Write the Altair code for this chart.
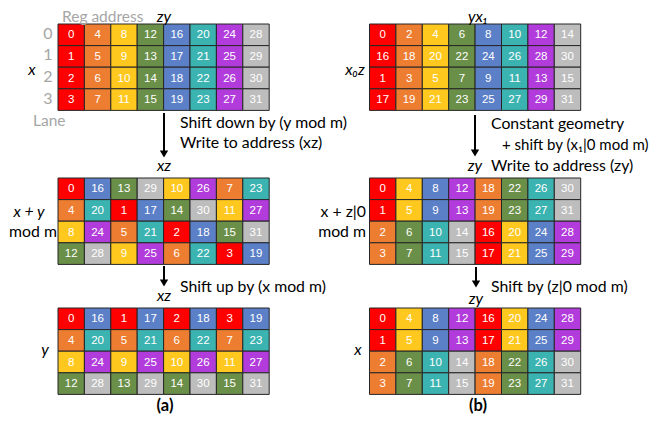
import altair as alt
import pandas as pd

# ---------------- data ----------------
grid_a_top = [[0, 4, 8, 12, 16, 20, 24, 28],
              [1, 5, 9, 13, 17, 21, 25, 29],
              [2, 6, 10, 14, 18, 22, 26, 30],
              [3, 7, 11, 15, 19, 23, 27, 31]]
grid_a_mid = [[0, 16, 13, 29, 10, 26, 7, 23],
              [4, 20, 1, 17, 14, 30, 11, 27],
              [8, 24, 5, 21, 2, 18, 15, 31],
              [12, 28, 9, 25, 6, 22, 3, 19]]
grid_a_bot = [[0, 16, 1, 17, 2, 18, 3, 19],
              [4, 20, 5, 21, 6, 22, 7, 23],
              [8, 24, 9, 25, 10, 26, 11, 27],
              [12, 28, 13, 29, 14, 30, 15, 31]]
grid_b_top = [[0, 2, 4, 6, 8, 10, 12, 14],
              [16, 18, 20, 22, 24, 26, 28, 30],
              [1, 3, 5, 7, 9, 11, 13, 15],
              [17, 19, 21, 23, 25, 27, 29, 31]]
grid_b_mid = [[0, 4, 8, 12, 18, 22, 26, 30],
              [1, 5, 9, 13, 19, 23, 27, 31],
              [2, 6, 10, 14, 16, 20, 24, 28],
              [3, 7, 11, 15, 17, 21, 25, 29]]
grid_b_bot = [[0, 4, 8, 12, 16, 20, 24, 28],
              [1, 5, 9, 13, 17, 21, 25, 29],
              [2, 6, 10, 14, 18, 22, 26, 30],
              [3, 7, 11, 15, 19, 23, 27, 31]]

lane_labels = ["0", "1", "2", "3"]
palette = ["#FF0000", "#ED7D31", "#FFC81E", "#6A8F48",
           "#5B80C8", "#3BB3B0", "#B23CDB", "#BDBDBD"]

# ---------------- layout (image pixel coordinates) ----------------
CW, CH = 26.4, 21.6
LX, RX = 58, 369.5
TOP, MID, BOT = 24, 178, 308

panels = [
    (grid_a_top, LX, TOP, "a"), (grid_a_mid, LX, MID, "a"), (grid_a_bot, LX, BOT, "a"),
    (grid_b_top, RX, TOP, "b"), (grid_b_mid, RX, MID, "b"), (grid_b_bot, RX, BOT, "b"),
]

rows = []
for grid, x0, y0, kind in panels:
    for r, line in enumerate(grid):
        for c, v in enumerate(line):
            grp = v // 4 if kind == "a" else (v % 16) // 2
            rows.append(dict(x=x0 + c * CW, x2=x0 + (c + 1) * CW,
                             y=y0 + r * CH, y2=y0 + (r + 1) * CH,
                             xc=x0 + (c + 0.5) * CW, yc=y0 + (r + 0.5) * CH + 0.5,
                             label=str(v), grp=grp))
cells = pd.DataFrame(rows)

XS = alt.Scale(domain=[8, 658])
YS = alt.Scale(domain=[8, 415], reverse=True)
FONT = "Lato"

base = alt.Chart(cells)
rects = base.mark_rect(stroke="#262626", strokeWidth=1).encode(
    x=alt.X("x:Q", scale=XS, axis=None), x2="x2:Q",
    y=alt.Y("y:Q", scale=YS, axis=None), y2="y2:Q",
    fill=alt.Fill("grp:O", scale=alt.Scale(domain=list(range(8)), range=palette), legend=None),
)
nums = base.mark_text(color="white", font="Liberation Sans", fontSize=11.5).encode(
    x=alt.X("xc:Q", scale=XS, axis=None), y=alt.Y("yc:Q", scale=YS, axis=None), text="label:N")


def texts(items, align="center", color="black", style="normal", weight="normal", size=15.8):
    df = pd.DataFrame(items, columns=["tx", "ty", "t"])
    return alt.Chart(df).mark_text(align=align, baseline="middle", color=color, fontStyle=style,
                                   fontWeight=weight, fontSize=size, font=FONT).encode(
        x=alt.X("tx:Q", scale=XS, axis=None), y=alt.Y("ty:Q", scale=YS, axis=None), text="t:N")


gray_items = [(62, 17, "Reg address"), (33, 121, "Lane")]
lane_items = [(48, TOP + (i + 0.5) * CH - 1, s) for i, s in enumerate(lane_labels)]
italic_items = [(164, 17, "zy"), (32, 70, "x"), (478, 17, "yx₁"), (355, 70, "x₀z"),
                (164, 166, "xz"), (475, 166, "zy"), (164, 296, "xz"), (476, 299, "zy"),
                (45, 350, "y"), (358, 350, "x"), (29, 212, "x + y")]
plain_center = [(33, 232, "mod m")]
right_items = [(366, 212, "x + z|0"), (366, 232, "mod m")]
left_items = [(180, 123, "Shift down by (y mod m)"), (180, 143, "Write to address (xz)"),
              (491, 124, "Constant geometry"),
              (491, 166, "Write to address (zy)"), (180, 287, "Shift up by (x mod m)"),
              (491, 287, "Shift by (z|0 mod m)")]
tight_items = [(502, 145, "+ shift by (x₁|0 mod m)")]
bold_items = [(165, 406, "(a)"), (478, 406, "(b)")]

arrows = pd.DataFrame(dict(ax=[164, 475, 164, 476], ay=[113, 115, 266, 267],
                           ay2=[151, 150, 280, 281], tip=[154, 153, 283, 284]))
shafts = alt.Chart(arrows).mark_rule(color="black", strokeWidth=2).encode(
    x=alt.X("ax:Q", scale=XS, axis=None), y=alt.Y("ay:Q", scale=YS, axis=None), y2="ay2:Q")
heads = alt.Chart(arrows).mark_point(shape="triangle-down", filled=True, color="black",
                                     size=70, opacity=1).encode(
    x=alt.X("ax:Q", scale=XS, axis=None), y=alt.Y("tip:Q", scale=YS, axis=None))

chart = alt.layer(
    rects, nums,
    texts(gray_items, align="left", color="#A6A6A6", size=15.5),
    texts(lane_items, color="#A6A6A6", size=16),
    texts(italic_items, style="italic"),
    texts(plain_center),
    texts(right_items, align="right"),
    texts(left_items, align="left"),
    texts(tight_items, align="left", size=15),
    texts(bold_items, weight="bold", size=16.5),
    shafts, heads,
).properties(width=650, height=407, padding=0,
             autosize=alt.AutoSizeParams(type="none")).configure_view(stroke=None)

chart.save("out.html", embed_options={"renderer": "svg", "actions": False})
